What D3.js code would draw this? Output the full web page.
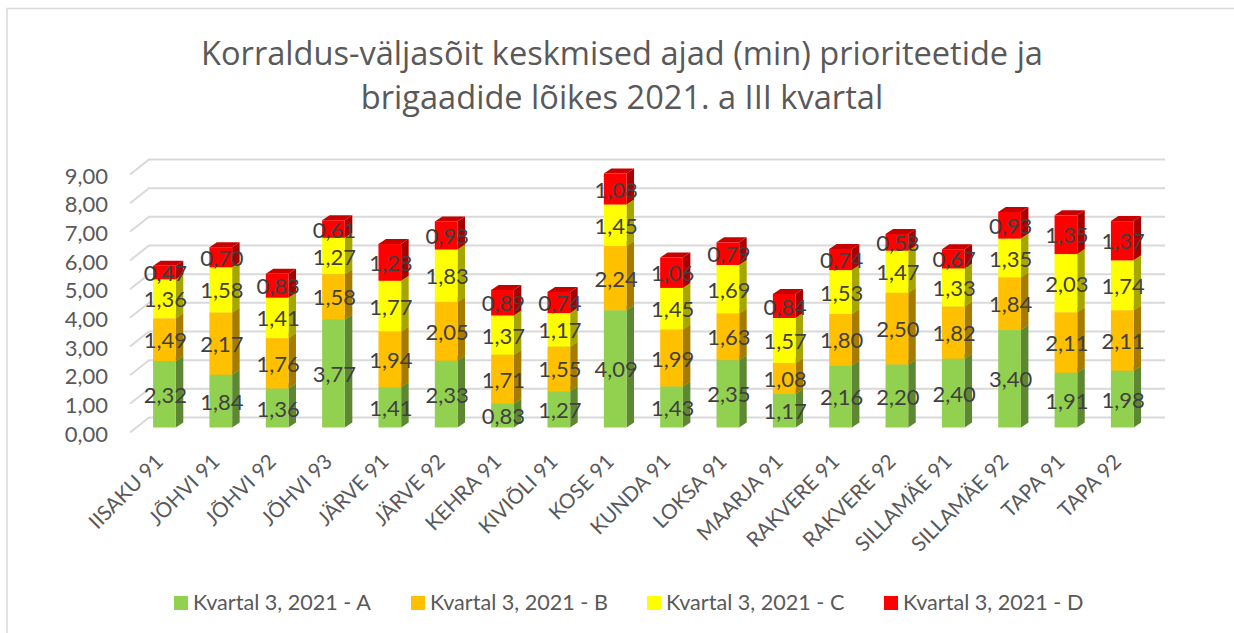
<!DOCTYPE html>
<html>
<head>
  <meta charset="UTF-8">
  <title>Korraldus-väljasõit keskmised ajad</title>
  <style>
    html, body { margin: 0; padding: 0; background: #fff; overflow: hidden; }
    svg { display: block; }
    text { font-family: "Lato", "Open Sans", sans-serif; }
    .title { font-family: "Open Sans", sans-serif; fill: #595959; font-size: 32.6px; text-anchor: middle; }
    .tick-y text { fill: #595959; font-size: 22px; }
    .tick-x text { fill: #595959; font-size: 20.7px; }
    .value { fill: #404040; font-size: 22px; text-anchor: middle; dominant-baseline: middle; }
    .legend-text { fill: #595959; font-size: 21.6px; }
  </style>
</head>
<body>
<svg></svg>
<script src="https://d3js.org/d3.v7.min.js"></script>
<script>

const categories = ["IISAKU 91", "JÕHVI 91", "JÕHVI 92", "JÕHVI 93", "JÄRVE 91", "JÄRVE 92", "KEHRA 91", "KIVIÕLI 91", "KOSE 91", "KUNDA 91", "LOKSA 91", "MAARJA 91", "RAKVERE 91", "RAKVERE 92", "SILLAMÄE 91", "SILLAMÄE 92", "TAPA 91", "TAPA 92"];
const seriesNames = ["Kvartal 3, 2021 - A", "Kvartal 3, 2021 - B", "Kvartal 3, 2021 - C", "Kvartal 3, 2021 - D"];
const valuesA = [2.32, 1.84, 1.36, 3.77, 1.41, 2.33, 0.83, 1.27, 4.09, 1.43, 2.35, 1.17, 2.16, 2.20, 2.40, 3.40, 1.91, 1.98];
const valuesB = [1.49, 2.17, 1.76, 1.58, 1.94, 2.05, 1.71, 1.55, 2.24, 1.99, 1.63, 1.08, 1.80, 2.50, 1.82, 1.84, 2.11, 2.11];
const valuesC = [1.36, 1.58, 1.41, 1.27, 1.77, 1.83, 1.37, 1.17, 1.45, 1.45, 1.69, 1.57, 1.53, 1.47, 1.33, 1.35, 2.03, 1.74];
const valuesD = [0.47, 0.70, 0.83, 0.61, 1.28, 0.98, 0.89, 0.74, 1.08, 1.06, 0.79, 0.84, 0.74, 0.58, 0.67, 0.93, 1.35, 1.37];
const yTicks = [0, 1, 2, 3, 4, 5, 6, 7, 8, 9];
const titleLines = ["Korraldus-väljasõit keskmised ajad (min) prioriteetide ja", "brigaadide lõikes 2021. a III kvartal"];

const colors = ["#92d050", "#ffc000", "#ffff00", "#ff0000"];
const sideColors = ["#5e8734", "#a67c00", "#a6a600", "#a60000"];
const topColors = ["#7ab03f", "#d9a300", "#d9d900", "#c80000"];

const width = 1234, height = 633;
const svg = d3.select("svg").attr("width", width).attr("height", height);

const comma = d3.format(".2f");
const fmt = v => comma(v).replace(".", ",");

// frame of the chart, right and bottom edge are cut off in the picture
svg.append("path").attr("d", "M7,633V8.5H1234").attr("fill", "none").attr("stroke", "#d9d9d9").attr("stroke-width", 1.5);

svg.selectAll(".title").data(titleLines).enter().append("text")
  .attr("class", "title")
  .attr("x", 622).attr("y", (d, i) => 65 + i * 44)
  .text(d => d);

// y is the front edge of the wall, the bars stand a bit further back
let y = d3.scaleLinear().domain([0, 9]).range([432.5, 174.5]);
let x = d3.scaleBand().domain(categories).range([136.2, 1150.5]).paddingInner(0.597).paddingOuter(0.3);

const wallDx = 19, wallDy = -15;
const barLift = -5, sideDx = 7.5, sideDy = -5;

let grid = svg.append("g");
grid.selectAll("path").data(yTicks).enter().append("path")
  .attr("d", d => `M130,${y(d)}L${130 + wallDx},${y(d) + wallDy}H1165`)
  .attr("fill", "none").attr("stroke", "#d9d9d9").attr("stroke-width", 2);

let axisY = svg.append("g").attr("class", "tick-y")
  .attr("transform", "translate(116,1.5)")
  .call(d3.axisLeft(y).tickValues(yTicks).tickFormat(fmt).tickSize(0).tickPadding(8));
axisY.select(".domain").remove();

let axisX = svg.append("g").attr("class", "tick-x")
  .attr("transform", "translate(0,458)")
  .call(d3.axisBottom(x).tickSize(0));
axisX.select(".domain").remove();
axisX.selectAll("text")
  .attr("y", 0).attr("dy", "0.35em").attr("x", 0)
  .attr("text-anchor", "end")
  .attr("transform", "translate(-5,0) rotate(-45)");

const table = categories.map((c, i) => ({ cat: c, A: valuesA[i], B: valuesB[i], C: valuesC[i], D: valuesD[i] }));
const stacked = d3.stack().keys(["A", "B", "C", "D"])(table);

let bars = svg.append("g");
stacked.forEach((s, si) => {
  let g = bars.append("g");
  g.selectAll(".side").data(s).enter().append("path")
    .attr("fill", sideColors[si])
    .attr("d", d => {
      let r = x(d.data.cat) + x.bandwidth();
      let t = y(d[1]) + barLift, b = y(d[0]) + barLift;
      return `M${r},${b}L${r + sideDx},${b + sideDy}V${t + sideDy}L${r},${t}Z`;
    });
  g.selectAll(".front").data(s).enter().append("rect")
    .attr("fill", colors[si])
    .attr("x", d => x(d.data.cat))
    .attr("width", x.bandwidth())
    .attr("y", d => y(d[1]) + barLift)
    .attr("height", d => y(d[0]) - y(d[1]));
  g.selectAll(".top").data(s).enter().append("path")
    .attr("fill", topColors[si])
    .attr("d", d => {
      let l = x(d.data.cat), r = l + x.bandwidth();
      let t = y(d[1]) + barLift;
      return `M${l},${t}L${l + sideDx},${t + sideDy}H${r + sideDx}L${r},${t}Z`;
    });
});

// labels go on top of all bars
let labels = svg.append("g");
stacked.forEach(s => {
  labels.selectAll(null).data(s).enter().append("text")
    .attr("class", "value")
    .attr("x", d => x(d.data.cat) + x.bandwidth() / 2 + 1)
    .attr("y", d => (y(d[0]) + y(d[1])) / 2 + barLift + 3)
    .text(d => fmt(d[1] - d[0]));
});

const legendSwatchX = [174, 411, 647, 884];
let legend = svg.append("g");
legend.selectAll("rect").data(seriesNames).enter().append("rect")
  .attr("x", (d, i) => legendSwatchX[i]).attr("y", 596)
  .attr("width", 14).attr("height", 14)
  .attr("fill", (d, i) => colors[i]);
legend.selectAll("text").data(seriesNames).enter().append("text")
  .attr("class", "legend-text")
  .attr("x", (d, i) => legendSwatchX[i] + 19).attr("y", 610)
  .text(d => d);

</script>
</body>
</html>
